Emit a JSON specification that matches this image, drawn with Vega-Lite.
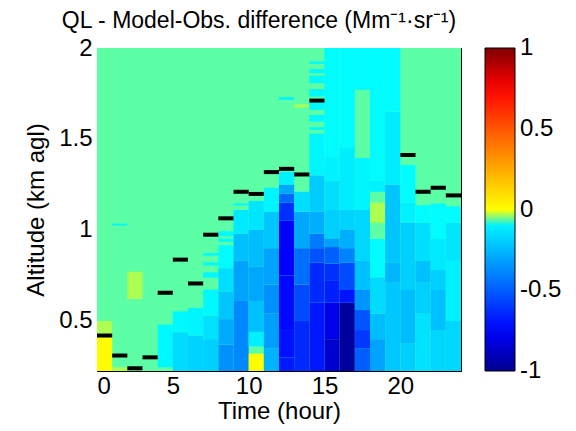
{
"$schema": "https://vega.github.io/schema/vega-lite/v6.json",
"width": 364, "height": 323,
"autosize": "none",
"padding": {"left": 97, "top": 48, "right": 115, "bottom": 60},
"background": "white",
"title": {"text": "QL - Model-Obs. difference (Mm⁻¹·sr⁻¹)", "fontSize": 23, "fontWeight": "normal", "font": "Liberation Sans", "offset": 3, "anchor": "middle", "dx": -20, "color": "black"},
"config": {
  "font": "Liberation Sans",
  "view": {"stroke": "black", "strokeWidth": 1},
  "axis": {"grid": false, "domainColor": "black", "tickColor": "black", "labelColor": "black", "titleColor": "black", "labelFontSize": 24, "titleFontSize": 24, "titleFontWeight": "normal", "labelFont": "Liberation Sans", "titleFont": "Liberation Sans"}
},
"datasets": {
"cells": [
{"t0":0,"t1":24,"a0":0.225,"a1":2,"v":-0.045},
{"t0":0,"t1":1,"a0":0.225,"a1":0.41,"v":0.01},{"t0":0,"t1":1,"a0":0.41,"a1":0.5,"v":-0.015},
{"t0":1,"t1":2,"a0":0.225,"a1":0.245,"v":-0.015},{"t0":1,"t1":2,"a0":1.025,"a1":1.035,"v":-0.09},
{"t0":2,"t1":3,"a0":0.62,"a1":0.77,"v":-0.015},
{"t0":4,"t1":5,"a0":0.245,"a1":0.48,"v":-0.08},
{"t0":5,"t1":6,"a0":0.225,"a1":0.438,"v":-0.16},{"t0":5,"t1":6,"a0":0.438,"a1":0.553,"v":-0.08},
{"t0":6,"t1":7,"a0":0.225,"a1":0.42,"v":-0.18},{"t0":6,"t1":7,"a0":0.42,"a1":0.572,"v":-0.09},
{"t0":7,"t1":8,"a0":0.225,"a1":0.4,"v":-0.19},{"t0":7,"t1":8,"a0":0.4,"a1":0.53,"v":-0.14},{"t0":7,"t1":8,"a0":0.53,"a1":0.672,"v":-0.08},{"t0":7,"t1":8,"a0":0.738,"a1":0.767,"v":-0.08},{"t0":7,"t1":8,"a0":0.805,"a1":0.822,"v":-0.08},{"t0":7,"t1":8,"a0":0.859,"a1":0.873,"v":-0.08},
{"t0":8,"t1":9,"a0":0.225,"a1":0.37,"v":-0.36},{"t0":8,"t1":9,"a0":0.37,"a1":0.51,"v":-0.29},{"t0":8,"t1":9,"a0":0.51,"a1":0.66,"v":-0.22},{"t0":8,"t1":9,"a0":0.66,"a1":0.79,"v":-0.15},{"t0":8,"t1":9,"a0":0.79,"a1":0.916,"v":-0.07},{"t0":8,"t1":9,"a0":0.934,"a1":0.953,"v":-0.07},{"t0":8,"t1":9,"a0":0.965,"a1":0.993,"v":-0.07},
{"t0":9,"t1":10,"a0":0.225,"a1":0.61,"v":-0.38},{"t0":9,"t1":10,"a0":0.61,"a1":0.83,"v":-0.31},{"t0":9,"t1":10,"a0":0.83,"a1":0.98,"v":-0.23},{"t0":9,"t1":10,"a0":0.98,"a1":1.11,"v":-0.12},{"t0":9,"t1":10,"a0":1.135,"a1":1.146,"v":-0.08},
{"t0":10,"t1":11,"a0":0.225,"a1":0.32,"v":0.01},{"t0":10,"t1":11,"a0":0.36,"a1":0.44,"v":-0.1},{"t0":10,"t1":11,"a0":0.44,"a1":0.61,"v":-0.23},{"t0":10,"t1":11,"a0":0.61,"a1":0.8,"v":-0.3},{"t0":10,"t1":11,"a0":0.8,"a1":1.0,"v":-0.24},{"t0":10,"t1":11,"a0":1.0,"a1":1.16,"v":-0.13},
{"t0":11,"t1":12,"a0":0.225,"a1":0.35,"v":-0.27},{"t0":11,"t1":12,"a0":0.35,"a1":0.54,"v":-0.32},{"t0":11,"t1":12,"a0":0.54,"a1":0.7,"v":-0.36},{"t0":11,"t1":12,"a0":0.7,"a1":0.9,"v":-0.31},{"t0":11,"t1":12,"a0":0.9,"a1":1.1,"v":-0.22},{"t0":11,"t1":12,"a0":1.1,"a1":1.232,"v":-0.09},
{"t0":12,"t1":13,"a0":0.225,"a1":0.3,"v":-0.68},{"t0":12,"t1":13,"a0":0.3,"a1":0.45,"v":-0.71},{"t0":12,"t1":13,"a0":0.45,"a1":0.75,"v":-0.73},{"t0":12,"t1":13,"a0":0.75,"a1":1.05,"v":-0.76},{"t0":12,"t1":13,"a0":1.05,"a1":1.15,"v":-0.62},{"t0":12,"t1":13,"a0":1.15,"a1":1.2,"v":-0.47},{"t0":12,"t1":13,"a0":1.2,"a1":1.25,"v":-0.3},{"t0":12,"t1":13,"a0":1.25,"a1":1.32,"v":-0.1},{"t0":12,"t1":13,"a0":1.715,"a1":1.73,"v":-0.09},
{"t0":13,"t1":14,"a0":0.225,"a1":0.5,"v":-0.64},{"t0":13,"t1":14,"a0":0.5,"a1":0.7,"v":-0.55},{"t0":13,"t1":14,"a0":0.7,"a1":0.9,"v":-0.45},{"t0":13,"t1":14,"a0":0.9,"a1":1.1,"v":-0.3},{"t0":13,"t1":14,"a0":1.1,"a1":1.21,"v":-0.15},{"t0":13,"t1":14,"a0":1.673,"a1":1.69,"v":-0.015},
{"t0":14,"t1":15,"a0":0.225,"a1":0.6,"v":-0.69},{"t0":14,"t1":15,"a0":0.6,"a1":0.82,"v":-0.64},{"t0":14,"t1":15,"a0":0.82,"a1":0.9,"v":-0.53},{"t0":14,"t1":15,"a0":0.9,"a1":0.98,"v":-0.42},{"t0":14,"t1":15,"a0":0.98,"a1":1.1,"v":-0.28},{"t0":14,"t1":15,"a0":1.1,"a1":1.3,"v":-0.2},{"t0":14,"t1":15,"a0":1.3,"a1":1.53,"v":-0.09},{"t0":14,"t1":15,"a0":1.55,"a1":1.565,"v":-0.08},{"t0":14,"t1":15,"a0":1.595,"a1":1.632,"v":-0.08},{"t0":14,"t1":15,"a0":1.66,"a1":1.7,"v":-0.08},{"t0":14,"t1":15,"a0":1.733,"a1":1.774,"v":-0.08},{"t0":14,"t1":15,"a0":1.807,"a1":1.847,"v":-0.08},{"t0":14,"t1":15,"a0":1.862,"a1":1.884,"v":-0.08},{"t0":14,"t1":15,"a0":1.913,"a1":1.926,"v":-0.08},
{"t0":15,"t1":16,"a0":0.225,"a1":0.4,"v":-0.86},{"t0":15,"t1":16,"a0":0.4,"a1":0.6,"v":-0.8},{"t0":15,"t1":16,"a0":0.6,"a1":0.72,"v":-0.67},{"t0":15,"t1":16,"a0":0.72,"a1":0.815,"v":-0.62},{"t0":15,"t1":16,"a0":0.815,"a1":0.906,"v":-0.49},{"t0":15,"t1":16,"a0":0.906,"a1":0.954,"v":-0.32},{"t0":15,"t1":16,"a0":0.954,"a1":1.11,"v":-0.19},{"t0":15,"t1":16,"a0":1.11,"a1":1.27,"v":-0.15},{"t0":15,"t1":16,"a0":1.27,"a1":1.4,"v":-0.1},{"t0":15,"t1":16,"a0":1.4,"a1":2,"v":-0.07},
{"t0":16,"t1":17,"a0":0.225,"a1":0.6,"v":-0.97},{"t0":16,"t1":17,"a0":0.6,"a1":0.67,"v":-0.7},{"t0":16,"t1":17,"a0":0.67,"a1":0.82,"v":-0.55},{"t0":16,"t1":17,"a0":0.82,"a1":0.9,"v":-0.4},{"t0":16,"t1":17,"a0":0.9,"a1":1.0,"v":-0.28},{"t0":16,"t1":17,"a0":1.0,"a1":1.11,"v":-0.18},{"t0":16,"t1":17,"a0":1.11,"a1":1.45,"v":-0.11},{"t0":16,"t1":17,"a0":1.45,"a1":2,"v":-0.07},
{"t0":17,"t1":18,"a0":0.225,"a1":0.35,"v":-0.5},{"t0":17,"t1":18,"a0":0.35,"a1":0.45,"v":-0.6},{"t0":17,"t1":18,"a0":0.45,"a1":0.56,"v":-0.52},{"t0":17,"t1":18,"a0":0.56,"a1":0.67,"v":-0.35},{"t0":17,"t1":18,"a0":0.67,"a1":0.83,"v":-0.23},{"t0":17,"t1":18,"a0":0.83,"a1":1.11,"v":-0.17},{"t0":17,"t1":18,"a0":1.11,"a1":1.395,"v":-0.09},{"t0":17,"t1":18,"a0":1.77,"a1":2,"v":-0.07},
{"t0":18,"t1":19,"a0":0.225,"a1":0.4,"v":-0.31},{"t0":18,"t1":19,"a0":0.4,"a1":0.54,"v":-0.24},{"t0":18,"t1":19,"a0":0.54,"a1":0.74,"v":-0.16},{"t0":18,"t1":19,"a0":0.74,"a1":0.95,"v":-0.07},{"t0":18,"t1":19,"a0":1.04,"a1":1.15,"v":-0.015},{"t0":18,"t1":19,"a0":1.21,"a1":1.27,"v":-0.1},{"t0":18,"t1":19,"a0":1.27,"a1":2,"v":-0.07},
{"t0":19,"t1":20,"a0":0.225,"a1":0.71,"v":-0.21},{"t0":19,"t1":20,"a0":0.71,"a1":0.82,"v":-0.26},{"t0":19,"t1":20,"a0":0.82,"a1":1.25,"v":-0.22},{"t0":19,"t1":20,"a0":1.25,"a1":1.65,"v":-0.11},{"t0":19,"t1":20,"a0":1.65,"a1":2,"v":-0.07},
{"t0":20,"t1":21,"a0":0.225,"a1":0.375,"v":-0.19},{"t0":20,"t1":21,"a0":0.375,"a1":0.67,"v":-0.24},{"t0":20,"t1":21,"a0":0.67,"a1":1.04,"v":-0.19},{"t0":20,"t1":21,"a0":1.04,"a1":1.15,"v":-0.1},{"t0":20,"t1":21,"a0":1.15,"a1":1.357,"v":-0.07},
{"t0":21,"t1":22,"a0":0.225,"a1":0.54,"v":-0.14},{"t0":21,"t1":22,"a0":0.54,"a1":0.71,"v":-0.19},{"t0":21,"t1":22,"a0":0.71,"a1":0.83,"v":-0.23},{"t0":21,"t1":22,"a0":0.83,"a1":1.04,"v":-0.15},{"t0":21,"t1":22,"a0":1.04,"a1":1.136,"v":-0.07},
{"t0":22,"t1":23,"a0":0.225,"a1":0.45,"v":-0.17},{"t0":22,"t1":23,"a0":0.45,"a1":0.67,"v":-0.23},{"t0":22,"t1":23,"a0":0.67,"a1":0.78,"v":-0.19},{"t0":22,"t1":23,"a0":0.78,"a1":0.95,"v":-0.12},{"t0":22,"t1":23,"a0":0.95,"a1":1.145,"v":-0.07},
{"t0":23,"t1":24,"a0":0.225,"a1":0.5,"v":-0.17},{"t0":23,"t1":24,"a0":0.5,"a1":0.83,"v":-0.1},{"t0":23,"t1":24,"a0":0.83,"a1":1.04,"v":-0.13},{"t0":23,"t1":24,"a0":1.04,"a1":1.13,"v":-0.07}
],
"blh": [
{"t0":0,"t1":1,"blh":0.42},{"t0":1,"t1":2,"blh":0.31},{"t0":2,"t1":3,"blh":0.24},{"t0":3,"t1":4,"blh":0.3},
{"t0":4,"t1":5,"blh":0.655},{"t0":5,"t1":6,"blh":0.837},{"t0":6,"t1":7,"blh":0.706},{"t0":7,"t1":8,"blh":0.974},
{"t0":8,"t1":9,"blh":1.064},{"t0":9,"t1":10,"blh":1.21},{"t0":10,"t1":11,"blh":1.198},{"t0":11,"t1":12,"blh":1.318},
{"t0":12,"t1":13,"blh":1.336},{"t0":13,"t1":14,"blh":1.305},{"t0":14,"t1":15,"blh":1.711},
{"t0":20,"t1":21,"blh":1.412},{"t0":21,"t1":22,"blh":1.21},{"t0":22,"t1":23,"blh":1.232},{"t0":23,"t1":24,"blh":1.19}
]
},
"layer": [
{
 "data": {"name": "cells"},
 "mark": {"type": "rect"},
 "encoding": {
  "x": {"field": "t0", "type": "quantitative", "scale": {"domain": [0, 24], "nice": false, "zero": false},
        "axis": {"orient": "bottom", "values": [0,5,10,15,20], "title": "Time (hour)", "tickSize": -5, "labelPadding": 8, "titlePadding": 1, "labelExpr": "'' + datum.value"}},
  "x2": {"field": "t1"},
  "y": {"field": "a0", "type": "quantitative", "scale": {"domain": [0.225, 2], "nice": false, "zero": false},
        "axis": {"orient": "left", "values": [0.5,1,1.5,2], "title": "Altitude (km agl)", "tickSize": -5, "labelPadding": 10, "titlePadding": 10, "labelExpr": "'' + datum.value"}},
  "y2": {"field": "a1"},
  "color": {"field": "v", "type": "quantitative",
    "scale": {"type": "linear", "interpolate": "rgb", "clamp": true,
      "domain": [-1, -0.75, -0.0625, -0.0624, -0.0313, -0.0312, -0.0001, 0, 0.75, 1],
      "range": ["#00008F", "#0000FF", "#00FFFF", "#5CFFA5", "#5CFFA5", "#ADFF52", "#ADFF52", "#FFFF00", "#FF0000", "#800000"]},
    "legend": {"type": "gradient", "direction": "vertical", "orient": "right", "offset": 23, "padding": 0, "title": null,
      "gradientLength": 323, "gradientThickness": 30, "gradientStrokeColor": "black", "gradientStrokeWidth": 1,
      "values": [-1, -0.5, 0, 0.5, 1], "labelFontSize": 24, "labelOffset": 5, "labelColor": "black", "labelOverlap": false,
      "labelExpr": "'' + datum.value",
      "encode": {"labels": {"update": {"baseline": {"value": "middle"}}}}}
  }
 }
},
{
 "data": {"name": "blh"},
 "mark": {"type": "rule", "color": "black", "strokeWidth": 4, "strokeCap": "butt"},
 "encoding": {
  "x": {"field": "t0", "type": "quantitative", "axis": {"orient": "top", "values": [0,5,10,15,20], "labels": false, "title": null, "domain": false, "tickSize": -5}},
  "x2": {"field": "t1"},
  "y": {"field": "blh", "type": "quantitative", "axis": {"orient": "right", "values": [0.5,1,1.5,2], "labels": false, "title": null, "domain": false, "tickSize": -5}}
 }
}
],
"resolve": {"axis": {"x": "independent", "y": "independent"}}
}
